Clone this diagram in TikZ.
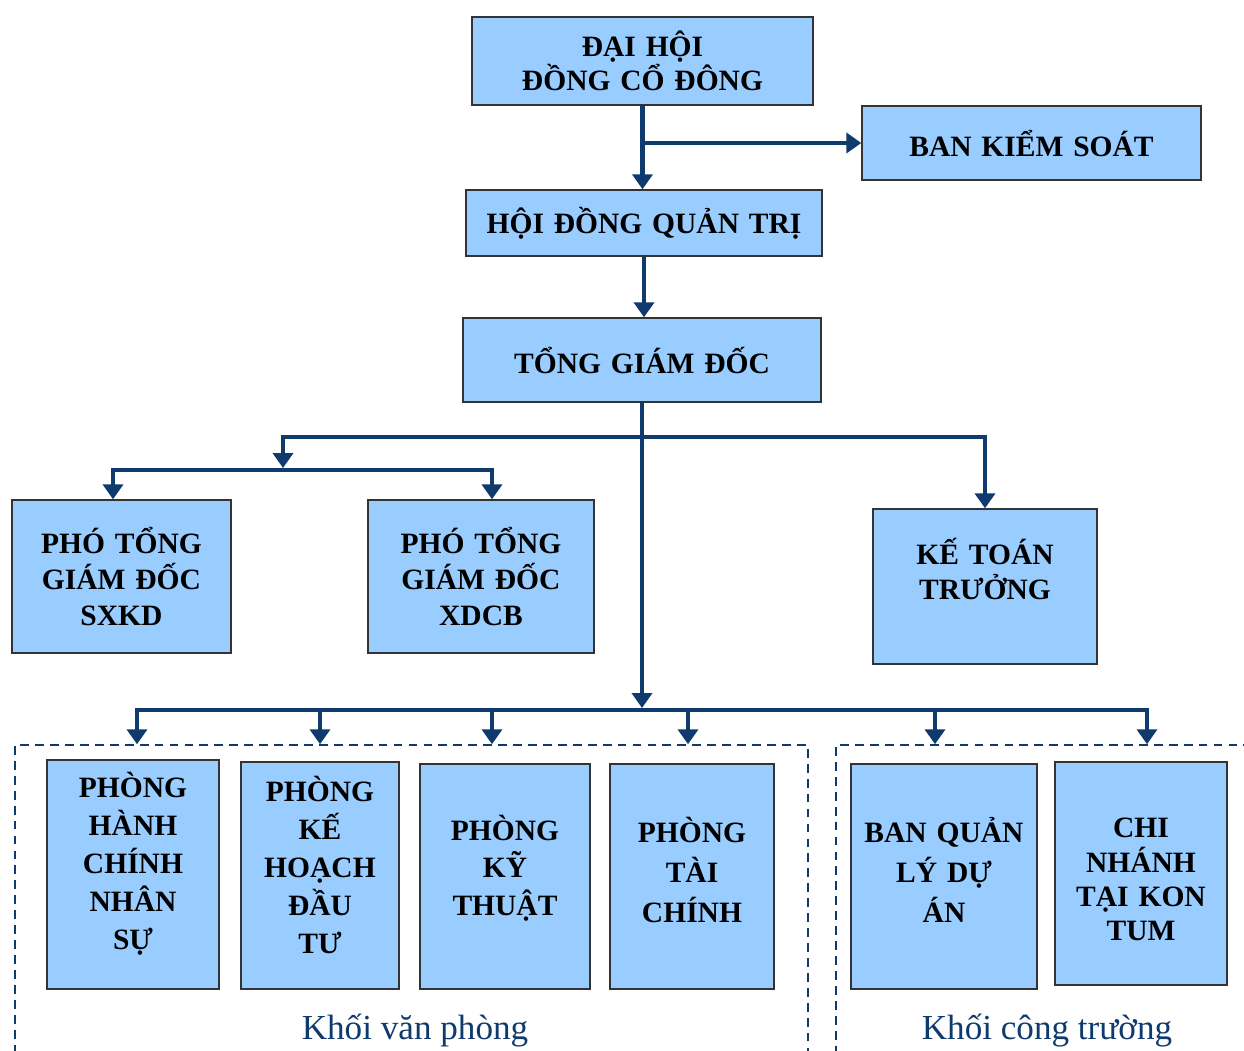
\documentclass[tikz,border=0pt]{standalone}
\usepackage{fontspec}
\setmainfont{Liberation Serif}
\usetikzlibrary{arrows.meta}
\definecolor{boxblue}{RGB}{153,204,255}
\definecolor{navy}{RGB}{14,58,110}
\tikzset{
  box/.style={draw=black!80, line width=0.8pt, fill=boxblue, align=center,
    inner xsep=0pt, font=\bfseries\fontsize{16.8}{20}\selectfont},
  sz/.style 2 args={minimum width=#1, text width=#1, minimum height=#2},
  lift/.style={execute at end node={\par\vspace*{#1}}},
  lead/.style={font=\bfseries\fontsize{16.8}{#1}\selectfont},
  conn/.style={draw=navy, line width=2.6pt, -{Triangle[length=0.3cm,width=0.4cm]}},
  bus/.style={draw=navy, line width=2.6pt, line cap=rect},
  group/.style={draw=navy, line width=0.9pt, dash pattern=on 5pt off 3.5pt},
  grouplbl/.style={text=navy, font=\fontsize{20}{24}\selectfont}
}
\begin{document}
\begin{tikzpicture}[x=0.02cm,y=-0.02cm]
    \useasboundingbox (0,0) rectangle (1244,1051);

    % dashed groups
    \node[group, minimum width=15.86cm, minimum height=6.5cm] (vp) at (411.5,907.5) {};
    \node[group, minimum width=8.68cm, minimum height=6.5cm] (ct) at (1053,907.5) {};
    \node[grouplbl] (lblvp) at (415,1031) {Khối văn phòng};
    \node[grouplbl] (lblct) at (1047,1031) {Khối công trường};

    % upper levels
    \node[box, sz={6.82cm}{1.76cm}, lead=18] (dhdcd) at (642.5,61) {ĐẠI HỘI\\ĐỒNG CỔ ĐÔNG};
    \node[box, sz={6.78cm}{1.48cm}] (bks) at (1031.5,143) {BAN KIỂM SOÁT};
    \node[box, sz={7.12cm}{1.32cm}] (hdqt) at (644,223) {HỘI ĐỒNG QUẢN TRỊ};
    \node[box, sz={7.16cm}{1.68cm}] (tgd) at (642,360) {TỔNG GIÁM ĐỐC};

    \node[box, sz={4.38cm}{3.06cm}, lead=20.4] (ptg1) at (121.5,576.5) {PHÓ TỔNG\\GIÁM ĐỐC\\SXKD};
    \node[box, sz={4.52cm}{3.06cm}, lead=20.4] (ptg2) at (481,576.5) {PHÓ TỔNG\\GIÁM ĐỐC\\XDCB};
    \node[box, sz={4.48cm}{3.10cm}, lead=20.4, lift=20pt] (ktt) at (985,586.5) {KẾ TOÁN\\TRƯỞNG};

    % departments
    \node[box, sz={3.44cm}{4.58cm}, lead=21.7, lift=12pt] (phcns) at (133,874.5) {PHÒNG\\HÀNH\\CHÍNH\\NHÂN\\SỰ};
    \node[box, sz={3.16cm}{4.54cm}, lead=21.5, lift=12pt] (pkhdt) at (320,875.5) {PHÒNG\\KẾ\\HOẠCH\\ĐẦU\\TƯ};
    \node[box, sz={3.40cm}{4.50cm}, lead=21.3, lift=9.6pt] (pkt) at (505,876.5) {PHÒNG\\KỸ\\THUẬT};
    \node[box, sz={3.28cm}{4.50cm}, lead=22.7, lift=7.4pt] (ptc) at (692,876.5) {PHÒNG\\TÀI\\CHÍNH};
    \node[box, sz={3.72cm}{4.50cm}, lead=22.7, lift=7.4pt] (bqlda) at (944,876.5) {BAN QUẢN\\LÝ DỰ\\ÁN};
    \node[box, sz={3.44cm}{4.46cm}, lead=19.5, lift=-7pt] (cnkt) at (1141,873.5) {CHI\\NHÁNH\\TẠI KON\\TUM};

    % bus points
    \coordinate (b1) at (283,437);
    \coordinate (b1e) at (283,468);
    \coordinate (b2) at (113,470);
    \coordinate (b3) at (492,470);
    \coordinate (mid) at (643,708);
    \coordinate (d1) at (137,710);
    \coordinate (d2) at (320,710);
    \coordinate (d3) at (492,710);
    \coordinate (d4) at (688,710);
    \coordinate (d5) at (935,710);
    \coordinate (d6) at (1147,710);

    % connectors
    \draw[conn] (dhdcd.south) -- (dhdcd.south |- hdqt.north);
    \draw[conn] (dhdcd.south |- bks.west) -- (bks.west);
    \draw[conn] (hdqt.south) -- (hdqt.south |- tgd.north);
    \draw[conn] (tgd.south) -- (tgd.south |- mid);

    \draw[bus] (b1) -- (ktt.north |- b1);
    \draw[conn] (ktt.north |- b1) -- (ktt.north);
    \draw[conn] (b1) -- (b1e);
    \draw[bus] (b2) -- (b3);
    \draw[conn] (b2) -- (b2 |- ptg1.north);
    \draw[conn] (b3) -- (b3 |- ptg2.north);

    \draw[bus] (d1) -- (d6);
    \foreach \d in {d1,d2,d3,d4} \draw[conn] (\d) -- (\d |- vp.north);
    \foreach \d in {d5,d6} \draw[conn] (\d) -- (\d |- ct.north);
\end{tikzpicture}
\end{document}
